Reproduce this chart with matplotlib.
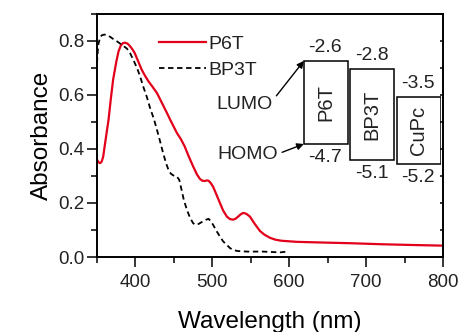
import numpy as np
import matplotlib
matplotlib.use("Agg")
import matplotlib.pyplot as plt
from matplotlib.patches import Rectangle

# ---------- Data ----------
p6t_nm = [350, 352, 354, 356, 358, 361, 365, 368, 371, 375, 378, 381, 384, 387,
          390, 393, 396, 399, 403, 408, 412, 417, 422, 428, 434, 441, 447, 454,
          459, 464, 469, 475, 480, 484, 487, 490, 493, 495, 498, 501, 505, 510,
          514, 519, 523, 527, 530, 533, 537, 540, 544, 549, 555, 562, 568, 575,
          582, 590, 600, 610, 636, 679, 722, 766, 800]
p6t_abs = [0.36, 0.35, 0.347, 0.352, 0.37, 0.43, 0.507, 0.585, 0.656, 0.72,
           0.76, 0.782, 0.791, 0.792, 0.788, 0.779, 0.768, 0.754, 0.727, 0.693,
           0.672, 0.649, 0.63, 0.606, 0.572, 0.532, 0.497, 0.458, 0.436, 0.409,
           0.374, 0.335, 0.305, 0.288, 0.282, 0.281, 0.283, 0.282, 0.273, 0.26,
           0.233, 0.199, 0.172, 0.149, 0.14, 0.138, 0.141, 0.148, 0.158, 0.163,
           0.16, 0.149, 0.123, 0.096, 0.082, 0.071, 0.064, 0.06, 0.058, 0.056,
           0.054, 0.051, 0.047, 0.044, 0.042]

bp3t_nm = [350, 351, 352, 354, 356, 358, 360, 363, 367, 371, 376, 380, 384, 389,
           393, 397, 402, 406, 410, 415, 419, 424, 428, 432, 436, 440, 443, 446,
           449, 452, 454, 457, 460, 463, 467, 471, 475, 478, 482, 485, 488, 492,
           495, 498, 501, 505, 510, 514, 519, 523, 527, 533, 545, 566, 588, 597]
bp3t_abs = [0.717, 0.76, 0.79, 0.81, 0.819, 0.821, 0.822, 0.82, 0.814, 0.806,
            0.797, 0.789, 0.781, 0.77, 0.754, 0.73, 0.699, 0.668, 0.631, 0.59,
            0.551, 0.51, 0.47, 0.428, 0.384, 0.345, 0.322, 0.308, 0.302, 0.298,
            0.297, 0.285, 0.248, 0.21, 0.174, 0.145, 0.125, 0.119, 0.122, 0.127,
            0.132, 0.138, 0.141, 0.133, 0.119, 0.098, 0.075, 0.058, 0.044, 0.033,
            0.026, 0.022, 0.02, 0.02, 0.017, 0.02]

materials = ["P6T", "BP3T", "CuPc"]
lumo = [-2.6, -2.8, -3.5]
homo = [-4.7, -5.1, -5.2]
lumo_labels = ["-2.6", "-2.8", "-3.5"]
homo_labels = ["-4.7", "-5.1", "-5.2"]

RED = "#e2001a"
TXT = "#222222"

plt.rcParams["font.family"] = ["Liberation Sans", "DejaVu Sans"]
plt.rcParams["text.color"] = TXT


def style_axes(ax):
    ax.set_xlim(350, 800)
    ax.set_ylim(0, 0.9)
    ax.set_xticks([400, 500, 600, 700, 800])
    ax.set_xticks(np.arange(350, 801, 50), minor=True)
    ax.set_yticks([0.0, 0.2, 0.4, 0.6, 0.8])
    ax.set_yticks(np.arange(0.0, 0.91, 0.1), minor=True)
    ax.yaxis.set_major_formatter(plt.FormatStrFormatter("%.1f"))
    for s in ax.spines.values():
        s.set_linewidth(1.4)
    ax.tick_params(which="both", direction="out", width=1.1, labelsize=13.5,
                   labelcolor=TXT, top=False, right=False)
    ax.tick_params(which="major", length=7.5)
    ax.tick_params(which="minor", length=4.5)
    ax.tick_params(axis="x", which="major", pad=5)
    ax.tick_params(axis="y", which="major", pad=1.5)
    # right side: small inward ticks every 0.1
    ax.yaxis.set_tick_params(which="both", right=True, labelright=False)
    for t in ax.yaxis.get_major_ticks() + ax.yaxis.get_minor_ticks():
        t.tick2line.set_marker(matplotlib.lines.TICKLEFT)
        t.tick2line.set_markersize(2.5)
    ax.set_xlabel("Wavelength (nm)", fontsize=17.5, labelpad=14)
    ax.set_ylabel("Absorbance", fontsize=17.5, labelpad=4)


def draw_levels(fig, ax):
    # energy level diagram drawn in its own axes (y = energy in eV)
    ins = fig.add_axes([302 / 461, 0.471, 139 / 461, 0.417])
    ins.set_xlim(0, 3)
    ins.set_ylim(-5.5, -2.0)
    ins.axis("off")
    for i, name in enumerate(materials):
        ins.add_patch(Rectangle((i + 0.04, homo[i]), 0.95, lumo[i] - homo[i],
                                fill=False, lw=1.1, ec="black"))
        cy = (lumo[i] + homo[i]) / 2
        ins.text(i + 0.515, cy, name, rotation=90, ha="center", va="center",
                 fontsize=14.5)
        ins.annotate(lumo_labels[i], (i + 0.5, lumo[i]), xytext=(0, 9.5),
                     textcoords="offset points", ha="center", va="center",
                     fontsize=14)
        ins.annotate(homo_labels[i], (i + 0.5, homo[i]), xytext=(0, -10),
                     textcoords="offset points", ha="center", va="center",
                     fontsize=14)

    arrow = dict(arrowstyle="-|>", color="black", lw=1.0, mutation_scale=10,
                 shrinkA=1, shrinkB=0)
    ax.annotate("LUMO", xy=(0.04, lumo[0]), xycoords=ins.transData,
                xytext=(542, 0.563), textcoords=ax.transData,
                ha="center", va="center", fontsize=14,
                arrowprops=dict(arrow, relpos=(1.0, 0.75)))
    ax.annotate("HOMO", xy=(0.04, homo[0]), xycoords=ins.transData,
                xytext=(546, 0.378), textcoords=ax.transData,
                ha="center", va="center", fontsize=14,
                arrowprops=dict(arrow, relpos=(1.0, 0.55)))


def main():
    fig = plt.figure(figsize=(4.61, 3.32), dpi=100)
    ax = fig.add_axes([97 / 461, 75 / 332, 346 / 461, 243.5 / 332])

    ax.plot(p6t_nm, p6t_abs, color=RED, lw=1.6, label="P6T")
    ax.plot(bp3t_nm, bp3t_abs, color="black", lw=1.3, ls=(0, (3, 2)),
            label="BP3T")

    style_axes(ax)
    ax.legend(loc="upper left", bbox_to_anchor=(0.14, 0.965), frameon=False,
              fontsize=14, handlelength=2.4, handletextpad=0.15,
              labelspacing=0.4, borderaxespad=0.3)

    draw_levels(fig, ax)
    fig.savefig("out.png", dpi=100)


if __name__ == "__main__":
    main()
